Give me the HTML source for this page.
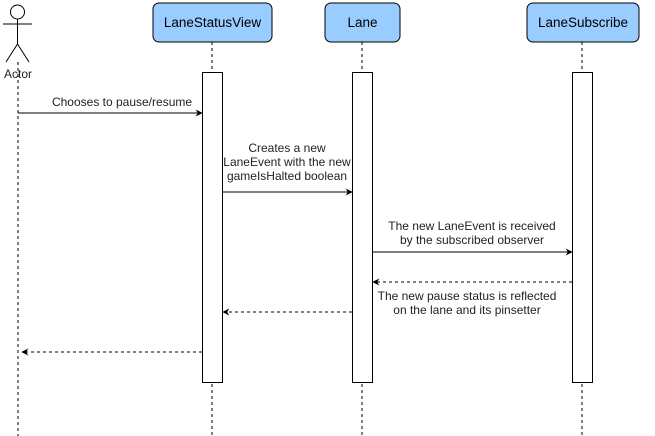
<!DOCTYPE html>
<html><head><style>
body{margin:0;background:#fff;}
svg{display:block;font-family:"Liberation Sans",Helvetica,Arial,sans-serif;}
</style></head><body>
<svg width="655" height="436" viewBox="0 0 655 436">
<defs><marker id="a" viewBox="0 0 10 10" refX="9" refY="5" markerWidth="7" markerHeight="7" orient="auto"><path d="M0,0 L10,5 L0,10 L3,5 z" fill="#000"/></marker></defs>
<g stroke="#000" fill="none">
<line x1="18" y1="62" x2="18" y2="436" stroke-dasharray="3,3"/>
<line x1="212" y1="42" x2="212" y2="436" stroke-dasharray="3,3"/>
<line x1="362" y1="42" x2="362" y2="436" stroke-dasharray="3,3"/>
<line x1="582" y1="42" x2="582" y2="436" stroke-dasharray="3,3"/>
<circle cx="17.5" cy="12" r="7" fill="#fff"/>
<line x1="17.5" y1="19" x2="17.5" y2="44"/>
<line x1="3" y1="24" x2="32" y2="24"/>
<line x1="17.5" y1="44" x2="6" y2="62"/>
<line x1="17.5" y1="44" x2="29" y2="62"/>
</g>
<g stroke="#000" fill="#99ccff">
<rect x="153" y="3" width="119" height="39" rx="6"/>
<rect x="325" y="3" width="75" height="39" rx="6"/>
<rect x="527" y="3" width="112" height="39" rx="6"/>
</g>
<g stroke="#000" fill="#fff">
<rect x="202.5" y="72.5" width="20" height="310"/>
<rect x="352.5" y="72.5" width="20" height="310"/>
<rect x="572.5" y="72.5" width="20" height="310"/>
</g>
<g font-size="13.5" fill="#000" text-anchor="middle">
<text x="212.5" y="27">LaneStatusView</text>
<text x="362.5" y="27">Lane</text>
<text x="583" y="27">LaneSubscribe</text>
</g>
<g font-size="12" fill="#222" text-anchor="middle">
<text x="18" y="78">Actor</text>
<text x="122" y="106">Chooses to pause/resume</text>
<text x="287" y="152">Creates a new</text>
<text x="287" y="166">LaneEvent with the new</text>
<text x="287" y="180">gameIsHalted boolean</text>
<text x="472" y="230">The new LaneEvent is received</text>
<text x="472" y="244">by the subscribed observer</text>
<text x="467" y="300">The new pause status is reflected</text>
<text x="467" y="314">on the lane and its pinsetter</text>
</g>
<g stroke="#000" fill="none" marker-end="url(#a)">
<line x1="18" y1="113" x2="202" y2="113"/>
<line x1="222" y1="192" x2="352" y2="192"/>
<line x1="372" y1="252" x2="572" y2="252"/>
<line x1="572" y1="282" x2="373" y2="282" stroke-dasharray="3,3"/>
<line x1="352" y1="312" x2="223" y2="312" stroke-dasharray="3,3"/>
<line x1="202" y1="352" x2="22" y2="352" stroke-dasharray="3,3"/>
</g>
</svg>
</body></html>
